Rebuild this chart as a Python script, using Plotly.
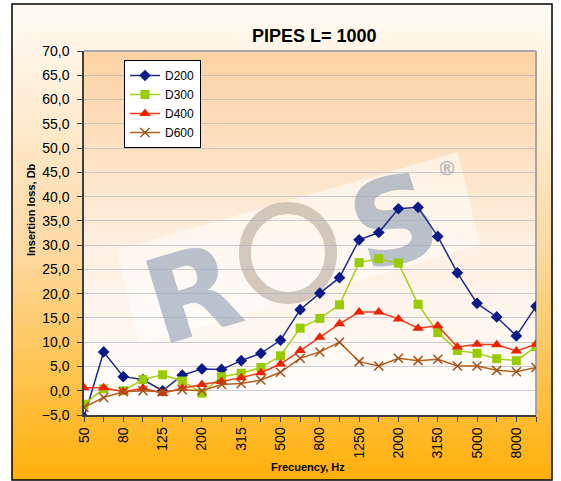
import plotly.graph_objects as go

freqs = ["50", "63", "80", "100", "125", "160", "200", "250", "315", "400", "500", "630",
         "800", "1000", "1250", "1600", "2000", "2500", "3150", "4000", "5000", "6300", "8000", "10000"]
d200 = [-5.5, 8.0, 2.9, 2.3, 0.0, 3.2, 4.5, 4.4, 6.2, 7.7, 10.4, 16.7,
        20.1, 23.3, 31.1, 32.6, 37.5, 37.8, 31.8, 24.3, 18.0, 15.2, 11.3, 17.4]
d300 = [-2.8, 0.4, 0.0, 2.3, 3.3, 2.0, -0.5, 2.9, 3.6, 4.8, 7.2, 12.9,
        14.9, 17.7, 26.4, 27.2, 26.3, 17.8, 12.0, 8.3, 7.7, 6.6, 6.2, 9.1]
d400 = [0.6, 0.6, -0.2, 0.5, -0.5, 0.5, 1.3, 1.9, 2.7, 3.7, 5.5, 8.3,
        11.0, 13.8, 16.2, 16.2, 14.8, 12.9, 13.4, 9.0, 9.6, 9.5, 8.2, 9.6]
d600 = [-3.4, -1.4, -0.2, 0.0, -0.2, 0.2, 0.0, 1.3, 1.5, 2.2, 3.8, 6.7,
        8.0, 10.0, 6.0, 5.1, 6.7, 6.2, 6.5, 5.1, 5.1, 4.2, 3.9, 4.8]
tick_text = [f if i % 2 == 0 else "" for i, f in enumerate(freqs)]

W, H = 561, 481
L, R, T, B = 84, 536, 51, 415   # plot area in pixels


def X(px):
    return (px - L) / (R - L)


def Y(py):
    return (B - py) / (B - T)


def lerp(c0, c1, t):
    return tuple(round(a + (b - a) * t) for a, b in zip(c0, c1))


def grad(stops, t):
    for (t0, c0), (t1, c1) in zip(stops, stops[1:]):
        if t <= t1:
            return lerp(c0, c1, (t - t0) / (t1 - t0))
    return stops[-1][1]


shapes = []
# outer gradient frame
outer_stops = [(0.0, (255, 251, 245)), (0.5, (254, 218, 165)), (1.0, (255, 176, 8))]
y0, y1, n = 4, 480, 68
step = (y1 - y0) / n
for i in range(n):
    c = grad(outer_stops, (i + 0.5) / n)
    shapes.append(dict(type="rect", xref="paper", yref="paper", layer="below",
                       x0=X(12), x1=X(552), y0=Y(y0 + i * step), y1=Y(min(y1, y0 + (i + 1) * step + 0.6)),
                       fillcolor="rgb(%d,%d,%d)" % c, line=dict(width=0)))
# plot area gradient
plot_stops = [(0.0, (252, 210, 163)), (0.55, (254, 240, 226)), (1.0, (255, 255, 255))]
y0, y1, n = T, B, 52
step = (y1 - y0) / n
for i in range(n):
    c = grad(plot_stops, (i + 0.5) / n)
    shapes.append(dict(type="rect", xref="paper", yref="paper", layer="below",
                       x0=0, x1=1, y0=Y(y0 + i * step), y1=Y(min(y1, y0 + (i + 1) * step + 0.6)),
                       fillcolor="rgb(%d,%d,%d)" % c, line=dict(width=0)))

# watermark band
band = [(117, 250), (458, 152), (480, 245), (140, 345)]
path = "M " + " L ".join("%f,%f" % (X(a), Y(b)) for a, b in band) + " Z"
shapes.append(dict(type="path", xref="paper", yref="paper", layer="below", path=path,
                   fillcolor="rgba(255,255,255,0.5)", line=dict(width=0)))
# O ring
shapes.append(dict(type="circle", xref="paper", yref="paper", layer="below",
                   x0=X(245), x1=X(331), y0=Y(298), y1=Y(208),
                   line=dict(color="rgba(175,160,145,0.55)", width=12)))
# R and S letters, registered mark
for txt, cx, cy, size, ang in [("R", 190, 286, 118, -17), ("S", 392, 214, 118, -17), ("®", 447, 167, 20, 0)]:
    col = "rgba(130,148,172,0.55)" if txt != "®" else "rgba(150,150,150,0.6)"
    shapes.append(dict(type="rect", xref="paper", yref="paper", layer="below",
                       x0=X(cx - 5), x1=X(cx + 5), y0=Y(cy + 5), y1=Y(cy - 5),
                       line=dict(width=0), fillcolor="rgba(0,0,0,0)",
                       label=dict(text=txt, textangle=ang, textposition="middle center",
                                  font=dict(family="DejaVu Sans", size=size, color=col, weight="bold"))))

# plot border top / right
shapes.append(dict(type="line", xref="paper", yref="paper", layer="below",
                   x0=0, x1=1, y0=1, y1=1, line=dict(color="#A6A6A6", width=2)))
shapes.append(dict(type="line", xref="paper", yref="paper", layer="below",
                   x0=1, x1=1, y0=0, y1=1, line=dict(color="#A6A6A6", width=2)))
# outer black border
shapes.append(dict(type="rect", xref="paper", yref="paper", layer="above",
                   x0=X(12), x1=X(552), y0=Y(480), y1=Y(4),
                   line=dict(color="#000000", width=1.5), fillcolor="rgba(0,0,0,0)"))

fig = go.Figure()
fig.add_trace(go.Scatter(x=freqs, y=d200, name="D200", mode="lines+markers", legendgroup="a",
                         line=dict(color="#1C2B8C", width=1.5),
                         marker=dict(symbol="diamond", size=9, color="#0A1A8A")))
fig.add_trace(go.Scatter(x=freqs, y=d300, name="D300", mode="lines+markers", legendgroup="b",
                         line=dict(color="#A6CF1A", width=1.5),
                         marker=dict(symbol="square", size=9, color="#99CC00")))
fig.add_trace(go.Scatter(x=freqs, y=d400, name="D400", mode="lines+markers", legendgroup="c",
                         line=dict(color="#F03A1A", width=1.5),
                         marker=dict(symbol="triangle-up", size=10, color="#F02000")))
fig.add_trace(go.Scatter(x=freqs, y=d600, name="D600", mode="lines+markers", legendgroup="d",
                         line=dict(color="#B4601E", width=1.5),
                         marker=dict(symbol="x-thin-open", size=9, color="#A0501A",
                                     line=dict(width=1.5, color="#A0501A"))))

axis_font = dict(family="Liberation Sans, Arial", size=14, color="#000000")
fig.update_layout(
    width=W, height=H,
    margin=dict(l=L, r=W - R, t=T, b=H - B, autoexpand=False),
    paper_bgcolor="#FFFFFF", plot_bgcolor="rgba(0,0,0,0)",
    separators=",.",
    font=dict(family="Liberation Sans, Arial", color="#000000"),
    shapes=shapes,
    showlegend=True,
    legend=dict(x=X(124), y=Y(60), xanchor="left", yanchor="top",
                bgcolor="#FFFFFF", bordercolor="#000000", borderwidth=1,
                font=dict(size=12), tracegroupgap=3, traceorder="normal"),
    xaxis=dict(type="category", range=[0, len(freqs) - 1], tickmode="array",
               tickvals=freqs, ticktext=tick_text, tickangle=-90, tickfont=axis_font,
               ticks="outside", ticklen=5, tickcolor="#404040", showline=True,
               linecolor="#404040", linewidth=1.5, showgrid=False, zeroline=False),
    yaxis=dict(range=[-5, 70], tick0=0, dtick=5, tickformat=".1f", tickfont=axis_font,
               ticks="outside", ticklen=5, tickcolor="#404040", ticklabelstandoff=5,
               showline=True, linecolor="#404040", linewidth=1.5,
               showgrid=True, gridcolor="rgba(160,168,185,0.55)", gridwidth=1, zeroline=False),
    annotations=[
        dict(text="<b>PIPES L= 1000</b>", xref="paper", yref="paper", x=X(314), y=Y(36),
             xanchor="center", yanchor="middle", showarrow=False, font=dict(size=18)),
        dict(text="<b>Insertion loss, Db</b>", xref="paper", yref="paper", x=X(31), y=Y(210),
             xanchor="center", yanchor="middle", textangle=-90, showarrow=False, font=dict(size=11)),
        dict(text="<b>Frecuency, Hz</b>", xref="paper", yref="paper", x=X(308), y=Y(467),
             xanchor="center", yanchor="middle", showarrow=False, font=dict(size=11)),
    ],
)

fig.write_html("out.html", config={"displayModeBar": False},
               post_script="document.body.style.margin='0';document.body.style.overflow='hidden';")
